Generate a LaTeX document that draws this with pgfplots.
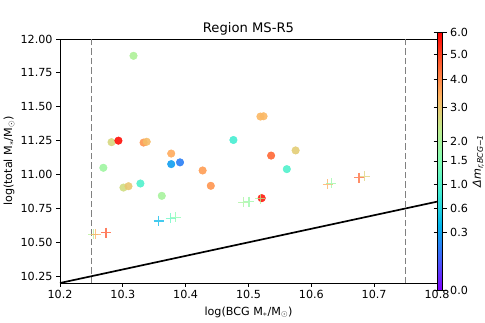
\documentclass[border=0pt]{standalone}
\usepackage{pgfplots}
\pgfplotsset{compat=1.18}
\usepackage{pgfplotstable}
\usepackage{fontspec}
\setmainfont{DejaVu Sans}

% matplotlib "rainbow"
\pgfplotsset{colormap={mplrainbow}{rgb=(0.5,0,1) rgb=(0.25,0.383,0.981) rgb=(0,0.707,0.924)
  rgb=(0.25,0.924,0.831) rgb=(0.5,1,0.707) rgb=(0.75,0.924,0.556) rgb=(1,0.707,0.383)
  rgb=(1,0.383,0.195) rgb=(1,0,0)}}

% galaxies (circles): log M_BCG, log M_total, Delta m
\pgfplotstableread{
x y dm
10.317 11.876 2.1
10.282 11.239 2.7
10.293 11.250 5.8
10.269 11.050 1.9
10.301 10.904 2.6
10.309 10.914 3.0
10.328 10.934 1.0
10.333 11.236 3.8
10.338 11.242 3.2
10.362 10.843 2.0
10.377 11.155 3.5
10.377 11.077 0.28
10.391 11.090 0.17
10.427 11.030 3.7
10.440 10.917 3.8
10.476 11.255 0.9
10.519 11.428 3.3
10.524 11.430 3.3
10.536 11.140 4.5
10.575 11.178 2.9
10.561 11.040 1.0
10.521 10.826 5.6
}\circles

% crosses
\pgfplotstableread{
x y dm
10.253 10.558 2.2
10.257 10.560 3.5
10.273 10.572 4.8
10.357 10.658 0.4
10.376 10.676 1.2
10.384 10.685 1.6
10.492 10.795 2.0
10.501 10.800 1.8
10.519 10.822 2.1
10.626 10.928 3.5
10.632 10.936 1.8
10.676 10.978 4.5
10.685 10.988 2.8
}\crosses

\begin{document}
\begin{tikzpicture}
\begin{axis}[
  at={(0,0)}, anchor=south west,
  scale only axis,
  width=377bp, height=244bp,
  xmin=10.2, xmax=10.8,
  ymin=10.2, ymax=12.0,
  xtick={10.2,10.3,...,10.8},
  ytick={10.25,10.5,...,12.0},
  xticklabel style={/pgf/number format/.cd,fixed,fixed zerofill,precision=1},
  yticklabel style={/pgf/number format/.cd,fixed,fixed zerofill,precision=2},
  /pgf/number format/assume math mode=true,
  tick align=outside,
  major tick length=3.9bp,
  tick style={black, line width=0.9pt},
  xtick pos=bottom, ytick pos=left,
  font=\fontsize{11.2}{13}\selectfont,
  xlabel={log(BCG M$_*$/M$_\odot$)},
  ylabel={log(total M$_*$/M$_\odot$)},
  xlabel style={at={(axis description cs:0.5,-0.119)}, anchor=center},
  ylabel style={at={(axis description cs:-0.135,0.5)}, anchor=center},
  axis line style={black, line width=0.9pt},
  colormap name=mplrainbow,
  point meta min=0, point meta max=2.44949,
  colorbar,
  colorbar style={
    at={(parent axis.east)}, anchor=west, xshift=-8bp,
    scale only axis,
    width=5.3bp, height=258bp,
    ytick={0,0.5477,0.7746,1,1.2247,1.4142,1.7321,2,2.2361,2.44949},
    yticklabels={0.0,0.3,0.6,1.0,1.5,2.0,3.0,4.0,5.0,6.0},
    yticklabel style={font=\fontsize{11.2}{13}\selectfont},
    tick align=outside,
    major tick length=3.9bp,
    tick style={black, line width=0.9pt},
    ylabel={\textit{Δm}\textsubscript{\textit{r,BCG−1}}},
    ylabel style={font=\fontsize{11.2}{13}\selectfont, at={(axis description cs:7.7,0.5)}, anchor=center},
    axis line style={black, line width=0.9pt},
  },
  clip mode=individual,
]
\addplot[gray, line width=1.8pt, dash pattern=on 6.5bp off 3bp] coordinates {(10.25,10.2) (10.25,12.0)};
\addplot[gray, line width=1.8pt, dash pattern=on 6.5bp off 3bp] coordinates {(10.75,10.2) (10.75,12.0)};
\addplot[black, line width=1.7pt] coordinates {(10.2,10.2) (10.8,10.8)};
\addplot[scatter, only marks, mark=*, mark size=3.8bp, point meta=explicit,
  mark options={opacity=0.9},
  scatter/use mapped color={draw=mapped color, fill=mapped color}]
  table[x=x, y=y, meta expr={sqrt(\thisrow{dm})}] {\circles};
\addplot[scatter, only marks, mark=+, mark size=5bp, line width=1.3pt, point meta=explicit,
  mark options={opacity=0.75},
  scatter/use mapped color={draw=mapped color}]
  table[x=x, y=y, meta expr={sqrt(\thisrow{dm})}] {\crosses};
\node[font=\fontsize{13.2}{15}\selectfont, anchor=base] at (rel axis cs:0.5,1.026) {Region MS-R5};
\end{axis}
\pgfresetboundingbox
\path[use as bounding box] (-60bp,-40bp) rectangle (425bp,283bp);
\end{tikzpicture}
\end{document}
